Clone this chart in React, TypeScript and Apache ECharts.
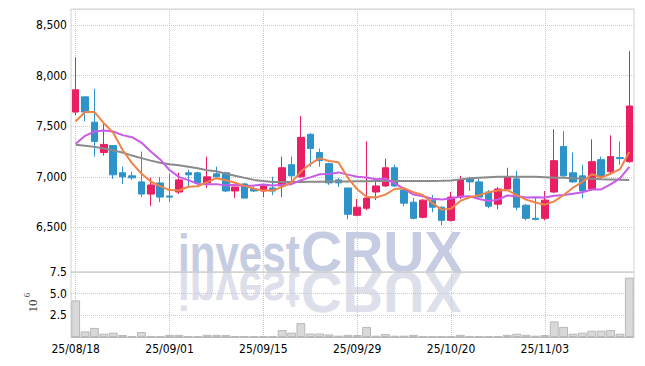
import React, { useEffect, useRef } from 'react';
import * as echarts from 'echarts';

const dates = [
  '25/08/18', '25/08/19', '25/08/20', '25/08/21', '25/08/22', '25/08/25', '25/08/26', '25/08/27', '25/08/28', '25/08/29',
  '25/09/01', '25/09/02', '25/09/03', '25/09/04', '25/09/05', '25/09/08', '25/09/09', '25/09/10', '25/09/11', '25/09/12',
  '25/09/15', '25/09/16', '25/09/17', '25/09/18', '25/09/19', '25/09/22', '25/09/23', '25/09/24', '25/09/25', '25/09/26',
  '25/09/29', '25/09/30', '25/10/01', '25/10/02', '25/10/10', '25/10/13', '25/10/14', '25/10/15', '25/10/16', '25/10/17',
  '25/10/20', '25/10/21', '25/10/22', '25/10/23', '25/10/24', '25/10/27', '25/10/28', '25/10/29', '25/10/30', '25/10/31',
  '25/11/03', '25/11/04', '25/11/05', '25/11/06', '25/11/07', '25/11/10', '25/11/11', '25/11/12', '25/11/13', '25/11/14',
];

const opens = [
  7640, 7790, 7540, 7240, 7310, 7040, 7010, 6950, 6830, 6940,
  6810, 6850, 7040, 7040, 6940, 7030, 7040, 6860, 6930, 6880,
  6860, 6890, 6910, 7120, 7000, 7420, 7240, 7130, 6970, 6890,
  6620, 6690, 6850, 6910, 7090, 6870, 6750, 6600, 6770, 6700,
  6570, 6800, 6980, 6950, 6850, 6730, 6880, 6980, 6720, 6590,
  6590, 6850, 7300, 7040, 7010, 6880, 7170, 7050, 7190, 7150,
];
const closes = [
  7860, 7640, 7350, 7320, 7020, 7000, 6990, 6830, 6920, 6800,
  6800, 6970, 7020, 6940, 7000, 7000, 6860, 6900, 6790, 6860,
  6910, 6860, 7090, 7010, 7390, 7280, 7160, 6940, 6940, 6630,
  6700, 6790, 6910, 7090, 6910, 6740, 6590, 6770, 6700, 6570,
  6800, 6970, 6950, 6800, 6710, 6880, 7000, 6700, 6590, 6580,
  6770, 7160, 7010, 6950, 6860, 7150, 7000, 7200, 7180, 7700,
];
const lows = [
  7610, 7550, 7200, 7210, 6980, 6930, 6970, 6800, 6710, 6750,
  6750, 6830, 6910, 6940, 6890, 6990, 6850, 6790, 6790, 6850,
  6800, 6820, 6800, 6960, 6990, 7100, 7100, 6920, 6900, 6580,
  6610, 6670, 6770, 6900, 6900, 6710, 6580, 6590, 6650, 6520,
  6560, 6780, 6860, 6800, 6690, 6680, 6860, 6670, 6570, 6570,
  6570, 6840, 6990, 6940, 6790, 6860, 6970, 7030, 7120, 7140,
];
const highs = [
  8180, 7790, 7870, 7530, 7310, 7100, 7050, 7250, 6990, 7000,
  7030, 7040, 7070, 7050, 7200, 7100, 7050, 6900, 6940, 6920,
  6930, 7000, 7200, 7200, 7600, 7430, 7280, 7140, 6990, 6890,
  6780, 7350, 6970, 7180, 7120, 6880, 6790, 6780, 6820, 6710,
  6850, 7010, 7000, 6980, 6870, 6900, 7090, 7060, 6730, 6800,
  6860, 7470, 7450, 7240, 7120, 7370, 7200, 7410, 7350, 8240,
];

const ma5 = [
  7550, 7640, 7640, 7530, 7436, 7265, 7136, 7033, 6954, 6909,
  6869, 6865, 6902, 6907, 6948, 6987, 6966, 6941, 6911, 6882,
  6864, 6864, 6901, 6945, 7052, 7126, 7185, 7157, 7144, 6992,
  6877, 6803, 6796, 6824, 6880, 6888, 6847, 6820, 6743, 6674,
  6686, 6762, 6798, 6819, 6848, 6865, 6870, 6819, 6775, 6747,
  6725, 6758, 6821, 6893, 6949, 7025, 6994, 7030, 7076, 7246,
];
const ma10 = [
  7326, 7405, 7448, 7457, 7448, 7412, 7392, 7339, 7250, 7172,
  7067, 7000, 6968, 6930, 6928, 6928, 6915, 6922, 6909, 6915,
  6925, 6915, 6921, 6928, 6967, 6995, 7025, 7029, 7044, 7022,
  7001, 6994, 6976, 6984, 6936, 6882, 6825, 6808, 6784, 6777,
  6787, 6805, 6809, 6781, 6761, 6775, 6816, 6809, 6797, 6798,
  6795, 6814, 6820, 6834, 6848, 6875, 6876, 6926, 6985, 7098,
];
const ma60 = [
  7316, 7306, 7296, 7280, 7260, 7240, 7210, 7185, 7160, 7140,
  7125, 7115, 7100, 7085, 7065, 7055, 7030, 7010, 6990, 6970,
  6958, 6950, 6948, 6948, 6950, 6952, 6952, 6955, 6955, 6955,
  6956, 6956, 6958, 6958, 6958, 6958, 6958, 6960, 6960, 6962,
  6965, 6975, 6985, 6990, 6995, 7000, 7002, 7002, 7000, 7000,
  6996, 6992, 6990, 6986, 6984, 6980, 6976, 6974, 6972, 6970,
];

const volumes = [
  4220000, 650000, 1050000, 380000, 500000, 230000, 100000, 580000, 100000, 100000,
  250000, 250000, 120000, 120000, 250000, 250000, 220000, 120000, 100000, 100000,
  100000, 120000, 800000, 500000, 1600000, 400000, 400000, 300000, 150000, 250000,
  220000, 1170000, 150000, 350000, 150000, 150000, 250000, 120000, 80000, 80000,
  80000, 250000, 120000, 80000, 80000, 120000, 250000, 380000, 250000, 150000,
  220000, 1800000, 1170000, 380000, 500000, 730000, 730000, 800000, 380000, 6850000,
];

const priceTicks = [6500, 7000, 7500, 8000, 8500];

export default function App() {
  const ref = useRef<HTMLDivElement>(null);
  useEffect(() => {
    const chart = echarts.init(ref.current!, null, { renderer: 'svg' });
    const font = 'DejaVu Sans Condensed';
    const gridLine = { type: 'dotted', color: '#c6c8da', width: 1 };
    const wmTop = '#c6cce1';
    const wmRef = '#dde0ea';
    const investFont = 'bold 54px "Liberation Sans"';
    const cruxFont = 'bold 57px "Liberation Sans"';
    const option: any = {
      animation: false,
      backgroundColor: '#ffffff',
      grid: [
        { left: 71, right: 11, top: 9, height: 263, show: true, borderColor: '#d2d2d2', borderWidth: 1 },
        { left: 71, right: 11, top: 272, height: 65, show: true, borderColor: '#d2d2d2', borderWidth: 1 },
      ],
      xAxis: [
        {
          type: 'category', gridIndex: 0, data: dates, boundaryGap: true,
          axisLine: { show: false }, axisTick: { show: false, alignWithLabel: true, interval: 9 },
          axisLabel: { show: false, interval: 9 },
          splitLine: { show: true, interval: 9, alignWithLabel: true, lineStyle: gridLine },
        },
        {
          type: 'category', gridIndex: 1, data: dates, boundaryGap: true,
          axisLine: { show: true, lineStyle: { color: '#bdbdbd' } },
          axisTick: { show: false, alignWithLabel: true, interval: 9 },
          axisLabel: { interval: 9, fontFamily: font, fontSize: 12, color: '#000', margin: 6 },
          splitLine: { show: true, interval: 9, alignWithLabel: true, lineStyle: gridLine },
        },
      ],
      yAxis: [
        {
          type: 'value', gridIndex: 0, min: 6060, max: 8658, splitNumber: 5, scale: true,
          axisLine: { show: false }, axisTick: { show: false },
          axisLabel: {
            showMinLabel: false, showMaxLabel: false, fontFamily: font, fontSize: 12, color: '#000', margin: 4,
            formatter: (v: number) => (priceTicks.includes(Math.round(v)) ? Math.round(v).toLocaleString('en-US') : ''),
          },
          splitLine: { show: true, lineStyle: gridLine },
        },
        {
          type: 'value', gridIndex: 1, min: 0, max: 7500000, interval: 2500000,
          axisLine: { show: false }, axisTick: { show: false },
          axisLabel: {
            showMinLabel: false, fontFamily: font, fontSize: 12, color: '#000', margin: 4,
            formatter: (v: number) => (v / 1e6).toFixed(1),
          },
          splitLine: { show: true, lineStyle: gridLine },
        },
      ],
      graphic: [
        { type: 'text', z: -1, x: 178, y: 272, scaleX: 0.78, style: { text: 'invest', x: 0, y: -19, textVerticalAlign: 'middle', font: investFont, fill: wmTop } },
        { type: 'text', z: -1, x: 301, y: 272, style: { text: 'CRUX', x: 0, y: -20, textVerticalAlign: 'middle', font: cruxFont, fill: wmTop } },
        { type: 'text', z: -1, x: 178, y: 272, scaleX: 0.78, scaleY: -1, style: { text: 'invest', x: 0, y: -19, textVerticalAlign: 'middle', font: investFont, fill: wmRef } },
        { type: 'text', z: -1, x: 301, y: 272, scaleY: -1, style: { text: 'CRUX', x: 0, y: -20, textVerticalAlign: 'middle', font: cruxFont, fill: wmRef } },
        { type: 'text', x: 32, y: 306, rotation: Math.PI / 2, style: { text: '10', textAlign: 'center', textVerticalAlign: 'middle', font: '13px "Liberation Serif"', fill: '#333' } },
        { type: 'text', x: 27, y: 295, rotation: Math.PI / 2, style: { text: '6', textAlign: 'center', textVerticalAlign: 'middle', font: '9px "Liberation Serif"', fill: '#333' } },
      ],
      series: [
        {
          type: 'candlestick', xAxisIndex: 0, yAxisIndex: 0, barWidth: 7,
          data: dates.map((_, i) => [opens[i], closes[i], lows[i], highs[i]]),
          itemStyle: { color: '#E91E63', color0: '#2E93C9', borderColor: '#E91E63', borderColor0: '#2E93C9', borderWidth: 1 },
        },
        { type: 'line', name: 'MA60', xAxisIndex: 0, yAxisIndex: 0, data: ma60, showSymbol: false, z: 3, lineStyle: { color: '#8a8a8a', width: 2 } },
        { type: 'line', name: 'MA10', xAxisIndex: 0, yAxisIndex: 0, data: ma10, showSymbol: false, z: 3, lineStyle: { color: '#c85ce8', width: 2 } },
        { type: 'line', name: 'MA5', xAxisIndex: 0, yAxisIndex: 0, data: ma5, showSymbol: false, z: 3, lineStyle: { color: '#ee8448', width: 2 } },
        {
          type: 'bar', xAxisIndex: 1, yAxisIndex: 1, data: volumes, barWidth: '94%',
          itemStyle: { color: '#d9d9d9', borderColor: '#b8b8b8', borderWidth: 1 },
        },
      ],
    };
    chart.setOption(option);
    return () => chart.dispose();
  }, []);
  return <div ref={ref} style={{ position: 'fixed', left: 0, top: 0, width: 645, height: 366 }} />;
}
